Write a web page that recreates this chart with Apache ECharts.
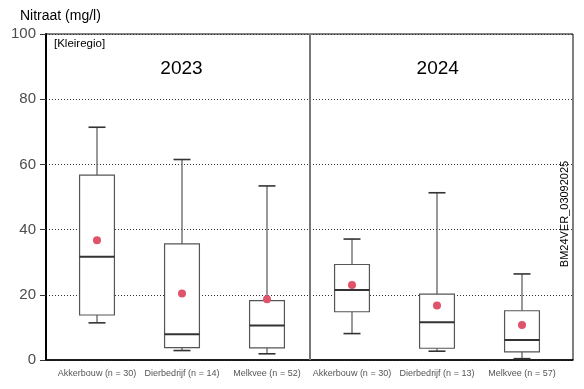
<!DOCTYPE html>
<html>
<head>
<meta charset="utf-8">
<script src="https://cdn.jsdelivr.net/npm/echarts@6/dist/echarts.min.js"></script>
<style>html,body{margin:0;padding:0;background:#fff}#c{width:584px;height:389px}</style>
</head>
<body>
<div id="c"></div>
<script>
const categories = ['Akkerbouw', 'Dierbedrijf', 'Melkvee', 'Akkerbouw', 'Dierbedrijf', 'Melkvee'];
const counts = [30, 14, 52, 30, 13, 57];
const years = ['2023', '2024'];
const lowerWhisker = [11.4, 2.9, 1.9, 8.1, 2.7, 0.4];
const q1 = [13.8, 3.8, 3.7, 14.8, 3.6, 2.5];
const median = [31.7, 7.9, 10.6, 21.5, 11.6, 6.1];
const q3 = [56.7, 35.6, 18.2, 29.3, 20.2, 15.1];
const upperWhisker = [71.4, 61.5, 53.4, 37.1, 51.3, 26.4];
const means = [36.7, 20.4, 18.6, 23.0, 16.7, 10.7];
const yTicks = [0, 20, 40, 60, 80, 100];

const positions = categories.map((_, i) => i + 1);
const boxData = positions.map((p, i) => [p, lowerWhisker[i], q1[i], median[i], q3[i], upperWhisker[i]]);
const meanData = positions.map((p, i) => [p, means[i]]);
const xLabels = categories.map((c, i) => c + ' (n = ' + counts[i] + ')');

const FONT = '"Liberation Sans", Arial, Helvetica, sans-serif';
const chart = echarts.init(document.getElementById('c'), null, {renderer: 'canvas'});

function renderBox(params, api) {
  const x = api.value(0);
  const lw = api.value(1), a = api.value(2), m = api.value(3), b = api.value(4), uw = api.value(5);
  const unit = api.size([1, 0])[0];
  const hb = unit * 0.205, hc = unit * 0.1;
  const P = v => api.coord([x, v]);
  const cx = P(0)[0];
  const yLw = P(lw)[1], yA = P(a)[1], yM = P(m)[1], yB = P(b)[1], yUw = P(uw)[1];
  const line = (x1, y1, x2, y2, w, col) => ({type: 'line', shape: {x1, y1, x2, y2}, style: {stroke: col, lineWidth: w}});
  return {
    type: 'group',
    children: [
      line(cx, yB, cx, yUw, 1.2, '#555'),
      line(cx, yA, cx, yLw, 1.2, '#555'),
      line(cx - hc, yUw, cx + hc, yUw, 1.6, '#333'),
      line(cx - hc, yLw, cx + hc, yLw, 1.6, '#333'),
      {type: 'rect', shape: {x: cx - hb, y: yB, width: 2 * hb, height: yA - yB}, style: {fill: '#fff', stroke: '#555', lineWidth: 1.2}},
      line(cx - hb, yM, cx + hb, yM, 2, '#333')
    ]
  };
}

chart.setOption({
  animation: false,
  grid: {left: 46, right: 11, top: 34, bottom: 29, show: true, borderColor: '#000', borderWidth: 1, backgroundColor: 'transparent'},
  xAxis: {
    type: 'value', min: 0.4, max: 6.6,
    axisLine: {show: true, onZero: false, lineStyle: {color: '#000', width: 1.5}},
    axisTick: {show: false},
    splitLine: {show: false},
    axisLabel: {
      customValues: positions,
      formatter: v => xLabels[Math.round(v) - 1] || '',
      color: '#555', fontSize: 9, fontFamily: FONT, margin: 9
    }
  },
  yAxis: {
    type: 'value', min: 0, max: 100, interval: 20,
    axisLine: {show: true, lineStyle: {color: '#000', width: 2}},
    axisTick: {show: true, length: 6, lineStyle: {color: '#333', width: 1}},
    axisLabel: {color: '#4d4d4d', fontSize: 15, fontFamily: FONT, margin: 10,
      customValues: yTicks},
    splitLine: {show: true, lineStyle: {color: '#333', width: 1, type: [1, 2]}}
  },
  series: [
    {
      type: 'custom', renderItem: renderBox, data: boxData,
      encode: {x: 0, y: [1, 2, 3, 4, 5]}, z: 3
    },
    {
      type: 'scatter', data: meanData, symbol: 'circle', symbolSize: 8,
      itemStyle: {color: '#DF536B', opacity: 1}, z: 5,
      markLine: {
        silent: true, symbol: 'none', label: {show: false},
        lineStyle: {color: '#777', width: 2, type: 'solid'},
        data: [{xAxis: 3.5}]
      }
    }
  ],
  graphic: [
    {type: 'text', left: 20, top: 9, style: {text: 'Nitraat (mg/l)', font: '14px ' + FONT, fill: '#000'}},
    {type: 'text', left: 54, top: 38, style: {text: '[Kleiregio]', font: '11.5px ' + FONT, fill: '#000'}},
    {type: 'text', x: 181.5, y: 69, style: {text: years[0], font: '19px ' + FONT, fill: '#000', align: 'center', verticalAlign: 'middle'}},
    {type: 'text', x: 437.7, y: 69, style: {text: years[1], font: '19px ' + FONT, fill: '#000', align: 'center', verticalAlign: 'middle'}},
    {type: 'text', x: 565, y: 214, rotation: Math.PI / 2, style: {text: 'BM24VER_03092025', font: '11px ' + FONT, fill: '#000', align: 'center', verticalAlign: 'middle'}}
  ]
});
</script>
</body>
</html>
